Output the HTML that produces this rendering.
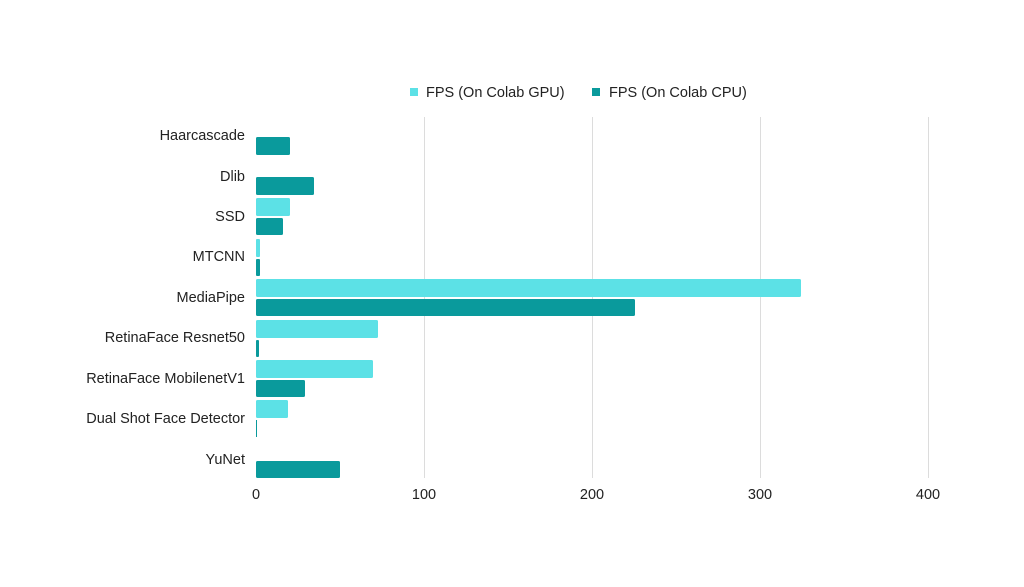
<!DOCTYPE html>
<html><head><style>body{margin:0;background:#fff}svg{display:block}text{font-family:"Liberation Sans",sans-serif;font-size:14.5px;fill:#222}</style></head>
<body>
<svg width="1024" height="587" xmlns="http://www.w3.org/2000/svg">
<g stroke="#dcdcdc" stroke-width="1">
<line x1="424.5" y1="117" x2="424.5" y2="478"/>
<line x1="592.5" y1="117" x2="592.5" y2="478"/>
<line x1="760.5" y1="117" x2="760.5" y2="478"/>
<line x1="928.5" y1="117" x2="928.5" y2="478"/>
</g>
<rect x="410" y="88" width="8" height="8" fill="#5ce1e6"/>
<text x="426" y="97">FPS (On Colab GPU)</text>
<rect x="592" y="88" width="8" height="8" fill="#0a9a9c"/>
<text x="609" y="97">FPS (On Colab CPU)</text>
<g text-anchor="end">
<text x="245" y="140">Haarcascade</text>
<text x="245" y="181">Dlib</text>
<text x="245" y="221">SSD</text>
<text x="245" y="261">MTCNN</text>
<text x="245" y="302">MediaPipe</text>
<text x="245" y="342">RetinaFace Resnet50</text>
<text x="245" y="383">RetinaFace MobilenetV1</text>
<text x="245" y="423">Dual Shot Face Detector</text>
<text x="245" y="464">YuNet</text>
</g>
<g fill="#5ce1e6">
<rect x="256" y="198" width="34" height="18" rx="1.5"/>
<rect x="256" y="239" width="4" height="18" rx="1"/>
<rect x="256" y="279" width="545" height="18" rx="1.5"/>
<rect x="256" y="320" width="122" height="18" rx="1.5"/>
<rect x="256" y="360" width="117" height="18" rx="1.5"/>
<rect x="256" y="400" width="32" height="18" rx="1.5"/>
</g>
<g fill="#0a9a9c">
<rect x="256" y="137" width="34" height="18" rx="1.5"/>
<rect x="256" y="177" width="58" height="18" rx="1.5"/>
<rect x="256" y="218" width="27" height="17" rx="1.5"/>
<rect x="256" y="259" width="4" height="17" rx="1"/>
<rect x="256" y="299" width="379" height="17" rx="1.5"/>
<rect x="256" y="340" width="3" height="17" rx="1"/>
<rect x="256" y="380" width="49" height="17" rx="1.5"/>
<rect x="256" y="420" width="1" height="17"/>
<rect x="256" y="461" width="84" height="17" rx="1.5"/>
</g>
<g text-anchor="middle">
<text x="256" y="499">0</text>
<text x="424" y="499">100</text>
<text x="592" y="499">200</text>
<text x="760" y="499">300</text>
<text x="928" y="499">400</text>
</g>
</svg>
</body></html>
